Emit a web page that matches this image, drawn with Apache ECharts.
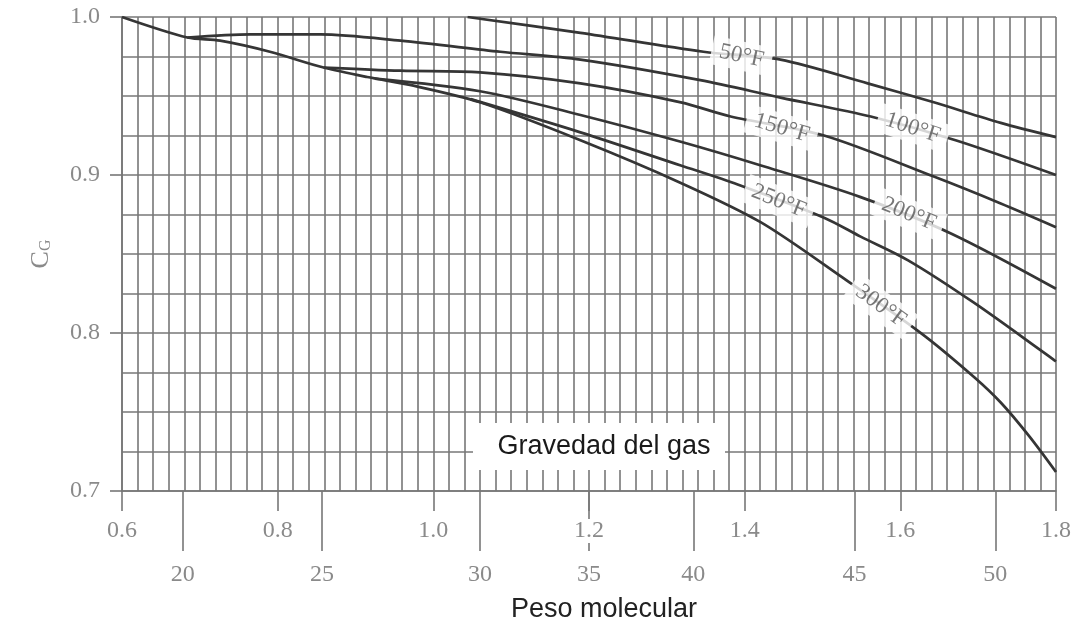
<!DOCTYPE html>
<html><head><meta charset="utf-8">
<script src="https://cdn.jsdelivr.net/npm/echarts@6/dist/echarts.min.js"></script>
<style>html,body{margin:0;padding:0;background:#fff}#c{width:1083px;height:630px}</style>
</head><body><div id="c"></div>
<script>
// ---- data ----
const gravityTicks = [0.6, 0.8, 1.0, 1.2, 1.4, 1.6, 1.8];
const cgTicks = [0.7, 0.8, 0.9, 1.0];
const mwTickLabels = [20, 25, 30, 35, 40, 45, 50];
const mwTickAtGravity = [0.678, 0.857, 1.060, 1.200, 1.334, 1.541, 1.722];

const t50 = [[1.044,1.000],[1.189,0.990],[1.347,0.978],[1.446,0.973],[1.558,0.958],[1.643,0.946],[1.729,0.933],[1.800,0.924]];
const t100 = [[0.684,0.987],[0.765,0.989],[0.855,0.989],[0.958,0.985],[1.086,0.978],[1.189,0.973],[1.343,0.960],[1.446,0.949],[1.562,0.937],[1.671,0.922],[1.800,0.900]];
const t150 = [[0.859,0.968],[0.958,0.966],[1.060,0.965],[1.189,0.958],[1.318,0.946],[1.382,0.937],[1.502,0.925],[1.643,0.899],[1.729,0.882],[1.800,0.867]];
const t200 = [[0.925,0.961],[1.060,0.953],[1.189,0.938],[1.318,0.921],[1.421,0.906],[1.549,0.886],[1.665,0.863],[1.800,0.828]];
const t250 = [[1.048,0.948],[1.189,0.927],[1.318,0.906],[1.391,0.894],[1.502,0.873],[1.549,0.861],[1.610,0.846],[1.695,0.819],[1.800,0.782]];
const t300 = [[0.600,1.000],[0.684,0.987],[0.726,0.985],[0.790,0.978],[0.859,0.968],[0.915,0.962],[0.970,0.957],[1.060,0.946],[1.189,0.922],[1.318,0.895],[1.421,0.870],[1.526,0.835],[1.629,0.799],[1.695,0.772],[1.729,0.756],[1.765,0.735],[1.800,0.712]];
const curveNames = ['50°F', '100°F', '150°F', '200°F', '250°F', '300°F'];
const labelAt = [[1.396,0.9753],[1.616,0.9297],[1.4476,0.9297],[1.611,0.8753],[1.4437,0.8835],[1.575,0.8171]];

// ---- styling / layout ----
const curves = [t50, t100, t150, t200, t250, t300];
const labelAngles = [-12, -18, -16, -22, -22, -36];
const serif = '"Liberation Serif","DejaVu Serif",serif';
const sans = '"Liberation Sans",Arial,sans-serif';
const gridColor = '#777';
const tickLabelColor = '#8a8a8a';
const curveColor = '#353535';
const gl = { color: gridColor, width: 1.6 };

const chart = echarts.init(document.getElementById('c'), null, { renderer: 'canvas' });

const series = curves.map((d, i) => ({
  type: 'line', name: curveNames[i], data: d, xAxisIndex: 0, yAxisIndex: 0,
  showSymbol: false, smooth: 0.3, z: 4,
  lineStyle: { color: curveColor, width: 2.7 }
}));
series.push({
  type: 'scatter', xAxisIndex: 0, yAxisIndex: 0, symbolSize: 0, z: 6,
  data: labelAt.map((p, i) => ({
    value: p,
    label: { formatter: curveNames[i], rotate: labelAngles[i] }
  })),
  label: {
    show: true, position: 'inside', fontFamily: serif, fontSize: 23, color: '#555',
    backgroundColor: '#fff', padding: [3, 8]
  }
});

const option = {
  animation: false,
  backgroundColor: '#fff',
  grid: { left: 122, right: 27, top: 17, bottom: 139, containLabel: false, outerBoundsMode: 'none' },
  xAxis: [{
    type: 'value', min: 0.6, max: 1.8, interval: 0.2, position: 'bottom', z: 3,
    axisLine: { show: true, lineStyle: gl },
    axisTick: { show: true, length: 20, lineStyle: gl },
    axisLabel: { margin: 28, fontFamily: serif, fontSize: 24, color: tickLabelColor,
      backgroundColor: '#fff', padding: [0, 2],
      formatter: v => v.toFixed(1) },
    splitLine: { show: true, lineStyle: gl },
    minorTick: { show: false, splitNumber: 10 },
    minorSplitLine: { show: true, lineStyle: gl }
  }, {
    type: 'value', min: 0.6, max: 1.8, position: 'bottom', z: 1,
    axisLine: { show: false },
    axisTick: { show: true, length: 60, customValues: mwTickAtGravity, lineStyle: gl },
    axisLabel: { margin: 72, customValues: mwTickAtGravity, fontFamily: serif, fontSize: 24,
      color: tickLabelColor,
      formatter: v => {
        let best = 0;
        mwTickAtGravity.forEach((g, i) => { if (Math.abs(g - v) < Math.abs(mwTickAtGravity[best] - v)) best = i; });
        return String(mwTickLabels[best]);
      } },
    splitLine: { show: false },
    name: 'Peso molecular', nameLocation: 'middle', nameGap: 105,
    nameTextStyle: { fontFamily: sans, fontSize: 27, color: '#222', padding: [0, 0, 0, 30] }
  }],
  yAxis: {
    type: 'value', min: 0.7, max: 1.0, interval: 0.1, z: 0,
    axisLine: { show: true, lineStyle: gl },
    axisTick: { show: true, length: 12, lineStyle: gl },
    axisLabel: { margin: 22, fontFamily: serif, fontSize: 24, color: tickLabelColor,
      formatter: v => v.toFixed(1) },
    splitLine: { show: true, lineStyle: gl },
    minorTick: { show: false, splitNumber: 4 },
    minorSplitLine: { show: true, lineStyle: gl },
    name: '{c|C}{g|G}', nameLocation: 'middle', nameRotate: 90, nameGap: 68,
    nameTextStyle: {
      color: tickLabelColor,
      rich: {
        c: { fontFamily: serif, fontSize: 26, color: tickLabelColor, verticalAlign: 'bottom', lineHeight: 30 },
        g: { fontFamily: serif, fontSize: 16, color: tickLabelColor, verticalAlign: 'bottom', lineHeight: 24 }
      }
    }
  },
  graphic: [
    { type: 'rect', shape: { x: 473, y: 423, width: 252, height: 47 }, style: { fill: '#fff' }, z: 10 },
    { type: 'text', x: 604, y: 447, z: 11,
      style: { text: 'Gravedad del gas', fontFamily: sans, fontSize: 27, fill: '#1a1a1a',
        align: 'center', verticalAlign: 'middle' } }
  ],
  series: series
};
chart.setOption(option);
</script>
</body></html>
